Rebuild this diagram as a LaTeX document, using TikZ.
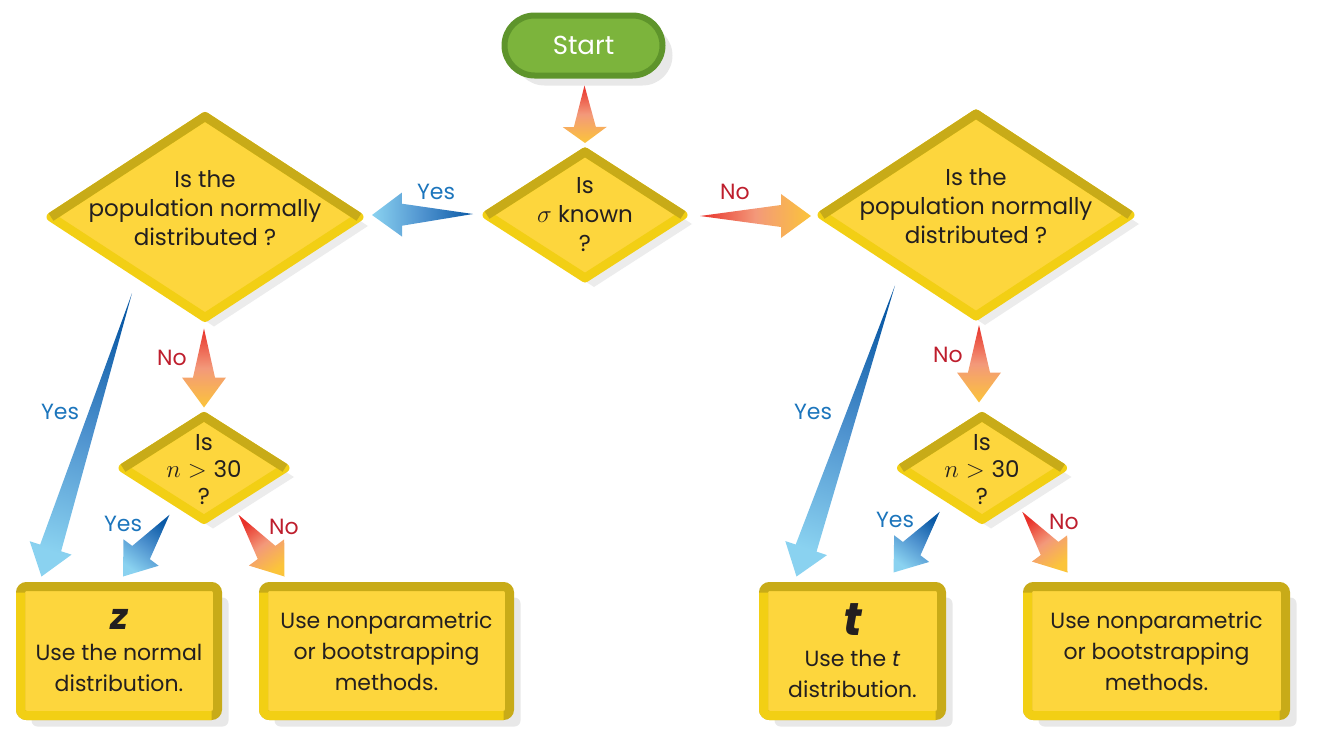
\documentclass[tikz,border=0pt]{standalone}
\usepackage{fontspec}
\setmainfont{Poppins}
\usetikzlibrary{calc,shapes.geometric,shadows}

\definecolor{qYellow}{HTML}{FDD63D}
\definecolor{qDark}{HTML}{C8AB18}
\definecolor{qLight}{HTML}{F2CF14}
\definecolor{startGreen}{HTML}{7CB43C}
\definecolor{startDark}{HTML}{5E942B}
\definecolor{inkText}{HTML}{231F20}
\definecolor{yesLabel}{HTML}{1C75BC}
\definecolor{noLabel}{HTML}{BE1E2D}
\definecolor{yesTail}{HTML}{0B5AA6}
\definecolor{yesMid}{HTML}{4F93CF}
\definecolor{yesHead}{HTML}{8AD2F0}
\definecolor{noTail}{HTML}{E8312A}
\definecolor{noMid}{HTML}{F3997A}
\definecolor{noHead}{HTML}{FBC43A}

\tikzset{
  qdiamond/.style={diamond, fill=qYellow, draw=qLight, line width=9pt, line join=round,
    inner sep=0pt, outer sep=0pt, text=inkText, font=\fontsize{23}{29}\selectfont,
    drop shadow={shadow xshift=9pt, shadow yshift=-9pt, opacity=.15}},
  qsmall/.style={qdiamond, font=\fontsize{23}{27}\selectfont},
  abox/.style={rectangle, rounded corners=6pt, fill=qYellow, draw=qDark, line width=9pt,
    inner sep=0pt, outer sep=0pt, minimum height=129pt, align=center, text=inkText,
    font=\fontsize{22}{31}\selectfont,
    drop shadow={shadow xshift=11pt, shadow yshift=-11pt, opacity=.18}},
  startpill/.style={rectangle, rounded corners=30pt, fill=startGreen, draw=startDark,
    line width=6pt, minimum width=158pt, minimum height=60pt, inner sep=0pt, outer sep=0pt,
    text=white, font=\fontsize{26}{26}\selectfont,
    drop shadow={shadow xshift=10pt, shadow yshift=-10pt, opacity=.18}},
  bevelline/.style={line width=9pt, line join=round},
  yeslabel/.style={text=yesLabel, font=\fontsize{22}{22}\selectfont},
  nolabel/.style={text=noLabel, font=\fontsize{22}{22}\selectfont}
}

\newcommand{\qText}[2][0pt]{\makebox[0pt]{\smash{\raisebox{#1}{\begin{tabular}{@{}c@{}}#2\end{tabular}}}}}
\newcommand{\bigLetter}[2][36]{{\fontsize{#1}{38}\selectfont\bfseries\itshape #2}}
\newcommand{\qBevel}[1]{\draw[bevelline, qDark] (#1.west) -- (#1.north) -- (#1.east);}
\newcommand{\boxBevel}[1]{\draw[bevelline, qLight, rounded corners=6pt, shorten <=6pt, shorten >=6pt]
  (#1.north west) -- (#1.south west) -- (#1.south east);}
% fat tapered arrow: [head length]{tail}{tip}{yes/no}
\newcommand{\fatArrow}[4][30]{%
  \pgfmathanglebetweenpoints{\pgfpointanchor{#2}{center}}{\pgfpointanchor{#3}{center}}%
  \pgfmathsetmacro{\arrAng}{\pgfmathresult-90}%
  \shade[bottom color=#4Tail, top color=#4Head, middle color=#4Mid, shading angle=\arrAng]
    (#2) -- ($(#3)!#1pt!(#2)!11pt!90:(#3)$) -- ($(#3)!#1pt!(#2)!22pt!90:(#3)$) -- (#3)
    -- ($(#3)!#1pt!(#2)!22pt!-90:(#3)$) -- ($(#3)!#1pt!(#2)!11pt!-90:(#3)$) -- cycle;}

\begin{document}
\begin{tikzpicture}[x=1pt,y=-1pt]
\useasboundingbox (0,0) rectangle (1318,744);

% start and first question
\node[startpill] (start) at (583.5,45.5) {Start};
\node[qdiamond, minimum width=196pt, minimum height=126pt] (q0) at (585,215) {\qText[-8pt]{Is\\$\sigma$ known\\?}};

% is the population normal
\node[qdiamond, minimum width=308pt, minimum height=201pt] (qL) at (205,217) {\qText{Is the\\population normally\\distributed ?}};
\node[qdiamond, minimum width=308pt, minimum height=202pt] (qR) at (976,215) {\qText{Is the\\population normally\\distributed ?}};

% sample size
\node[qsmall, minimum width=162pt, minimum height=103pt] (qLs) at (204,468) {\qText[-10pt]{Is\\$n > \mbox{30}$\\?}};
\node[qsmall, minimum width=161pt, minimum height=103pt] (qRs) at (982,468) {\qText[-10pt]{Is\\$n > \mbox{30}$\\?}};

% outcomes
\node[abox, minimum width=197pt] (zbox) at (119,651) {\bigLetter{z}\\Use the normal\\distribution.};
\node[abox, minimum width=246pt] (npL) at (386.5,651) {Use nonparametric\\or bootstrapping\\methods.};
\node[abox, minimum width=178pt] (tbox) at (852.5,651) {\bigLetter[46]{t}\\Use the \textit{t}\\distribution.};
\node[abox, minimum width=258pt] (npR) at (1156.5,651) {Use nonparametric\\or bootstrapping\\methods.};

\qBevel{q0} \qBevel{qL} \qBevel{qR} \qBevel{qLs} \qBevel{qRs}
\boxBevel{zbox} \boxBevel{npL} \boxBevel{tbox} \boxBevel{npR}

% arrow ends
\coordinate (s0a) at ([shift={(1,10)}]start.south);
\coordinate (s0b) at ([shift={(0,-9)}]q0.north);
\coordinate (y0a) at ([shift={(-14,-1)}]q0.west);
\coordinate (y0b) at ([shift={(13,-2)}]qL.east);
\coordinate (n0a) at ([shift={(17,1)}]q0.east);
\coordinate (n0b) at ([shift={(-11,1)}]qR.west);
\coordinate (yLa) at ([shift={(4,26)}]qL.south west);
\coordinate (yLb) at ([shift={(21,-10)}]zbox.north west);
\coordinate (nLa) at ([shift={(-1,11)}]qL.south);
\coordinate (nLb) at ([shift={(0,-9)}]qLs.north);
\coordinate (ySLa) at ([shift={(6,21)}]qLs.south west);
\coordinate (ySLb) at ([shift={(4,-10)}]zbox.north);
\coordinate (nSLa) at ([shift={(-6,21)}]qLs.south east);
\coordinate (nSLb) at ([shift={(21,-10)}]npL.north west);
\coordinate (yRa) at ([shift={(-4,20)}]qR.south west);
\coordinate (yRb) at ([shift={(33,-10)}]tbox.north west);
\coordinate (nRa) at ([shift={(3,9)}]qR.south);
\coordinate (nRb) at ([shift={(-3,-14)}]qRs.north);
\coordinate (ySRa) at ([shift={(-2,18)}]qRs.south west);
\coordinate (ySRb) at ([shift={(-48,-14)}]tbox.north east);
\coordinate (nSRa) at ([shift={(0,18)}]qRs.south east);
\coordinate (nSRb) at ([shift={(40,-14)}]npR.north west);

% arrows
\fatArrow[16]{s0a}{s0b}{no}
\fatArrow{y0a}{y0b}{yes}
\fatArrow{n0a}{n0b}{no}
\fatArrow{yLa}{yLb}{yes}
\fatArrow{nLa}{nLb}{no}
\fatArrow{ySLa}{ySLb}{yes}
\fatArrow{nSLa}{nSLb}{no}
\fatArrow{yRa}{yRb}{yes}
\fatArrow{nRa}{nRb}{no}
\fatArrow{ySRa}{ySRb}{yes}
\fatArrow{nSRa}{nSRb}{no}

% labels
\node[yeslabel] (yes0) at (436,192) {Yes};
\node[nolabel] (no0) at (735,192) {No};
\node[nolabel] (noL) at (172,358) {No};
\node[yeslabel] (yesL) at (60,412) {Yes};
\node[yeslabel] (yesSL) at (123,524) {Yes};
\node[nolabel] (noSL) at (284,527) {No};
\node[nolabel] (noR) at (948,355) {No};
\node[yeslabel] (yesR) at (813,412) {Yes};
\node[yeslabel] (yesSR) at (895,520) {Yes};
\node[nolabel] (noSR) at (1064,522) {No};
\end{tikzpicture}
\end{document}
